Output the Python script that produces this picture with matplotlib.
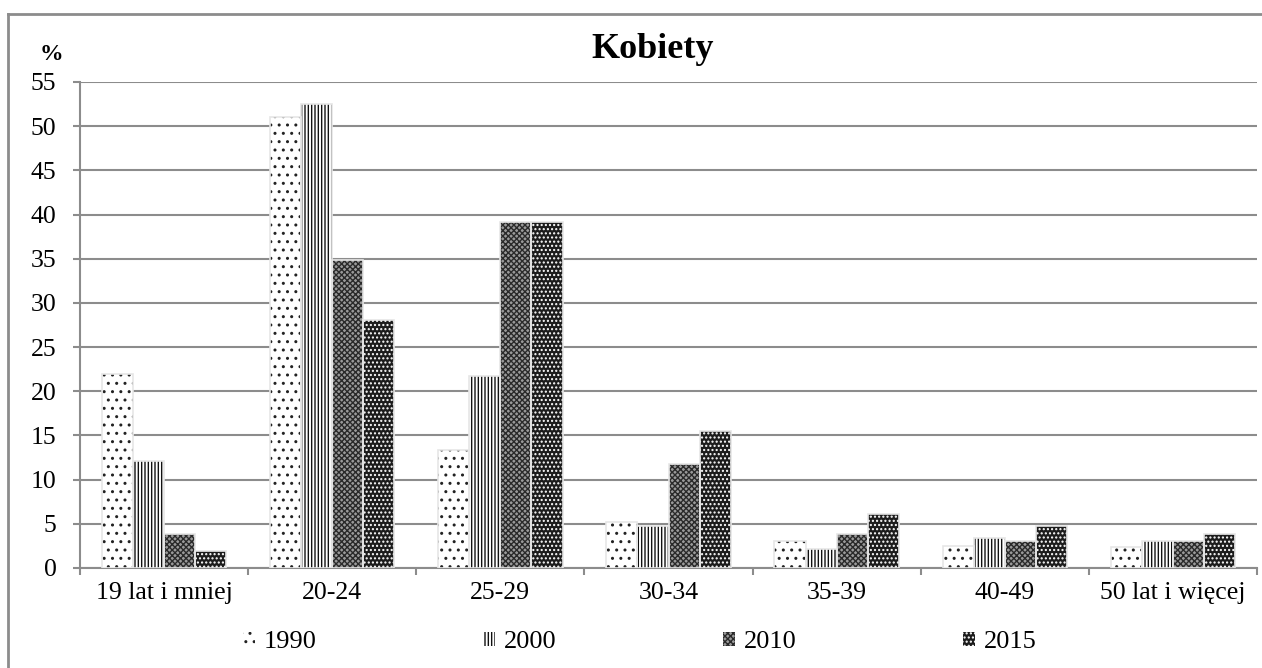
import numpy as np
import matplotlib
matplotlib.use("Agg")
import matplotlib.pyplot as plt
from matplotlib.patches import Patch
from matplotlib.lines import Line2D

plt.rcParams["font.family"] = ["Liberation Serif", "DejaVu Serif"]
plt.rcParams["hatch.linewidth"] = 1.0

categories = ["19 lat i mniej", "20-24", "25-29", "30-34", "35-39", "40-49", "50 lat i więcej"]
years = ["1990", "2000", "2010", "2015"]
v1990 = [22.0, 51.0, 13.4, 5.2, 3.0, 2.5, 2.4]
v2000 = [12.1, 52.5, 21.7, 4.7, 2.1, 3.4, 3.1]
v2010 = [3.8, 34.8, 39.1, 11.8, 3.9, 3.0, 3.0]
v2015 = [1.9, 28.1, 39.2, 15.5, 6.1, 4.7, 3.9]
yticks = list(range(0, 56, 5))

# face colour, hatch colour, hatch pattern
STYLES = [
    ("white", "#222222", ".."),
    ("white", "#111111", "|||||"),
    ("#9a9a9a", "#2a2a2a", "xxxxxx"),
    ("#1c1c1c", "white", "...."),
]
GRID = "#8c8c8c"
W, H = 1262, 668

fig = plt.figure(figsize=(W / 100, H / 100), dpi=100)
ax = fig.add_axes([80 / W, 1 - 568 / H, (1257 - 80) / W, (568 - 82) / H])

x = np.arange(len(categories))
w = 0.185
series = [v1990, v2000, v2010, v2015]
handles = []
for i, (vals, (fc, hc, hatch)) in enumerate(zip(series, STYLES)):
    pos = x + (i - 1.5) * w
    ax.bar(pos, vals, w, color=fc, edgecolor=hc, hatch=hatch, linewidth=0, zorder=3)
    ax.bar(pos, vals, w, fill=False, edgecolor="#e6e6e6", linewidth=1.2, zorder=4)
    handles.append(Patch(facecolor=fc, edgecolor=hc, hatch=hatch, linewidth=0))

ax.set_xlim(-0.5, len(categories) - 0.5)
ax.set_ylim(0, 55)
ax.set_yticks(yticks)
ax.yaxis.grid(True, color=GRID, lw=1.5, zorder=0)
ax.set_axisbelow(True)
for s in ["top", "right"]:
    ax.spines[s].set_visible(False)
for s in ["bottom", "left"]:
    ax.spines[s].set_color(GRID)
    ax.spines[s].set_linewidth(1.5)
ax.tick_params(axis="y", length=5, color=GRID, width=1.5, labelsize=18.5, pad=12)
ax.set_xticks(x)
ax.set_xticklabels(categories, fontsize=18.5)
ax.tick_params(axis="x", length=0, pad=10)
ax.set_xticks(np.arange(-0.5, len(categories)), minor=True)
ax.tick_params(axis="x", which="minor", length=5, color=GRID, width=1.5)

fig.text(0.517, 1 - 49 / H, "Kobiety", ha="center", va="center", fontsize=26, fontweight="bold")
fig.text(51 / W, 1 - 54 / H, "%", ha="center", va="center", fontsize=17, fontweight="bold")

fig.legend(handles, years, loc="center", bbox_to_anchor=(640 / W, 1 - 642 / H), ncol=4,
           frameon=False, fontsize=19, handlelength=0.45, handleheight=0.45,
           handletextpad=0.35, columnspacing=6.3)

# outer frame (left and top edges only)
fig.add_artist(Line2D([8 / W, 8 / W], [0, 1 - 14 / H], transform=fig.transFigure,
                      color="#8c8c8c", lw=2))
fig.add_artist(Line2D([8 / W, 1], [1 - 14 / H, 1 - 14 / H], transform=fig.transFigure,
                      color="#8c8c8c", lw=2))

fig.savefig("out.png", dpi=100)
